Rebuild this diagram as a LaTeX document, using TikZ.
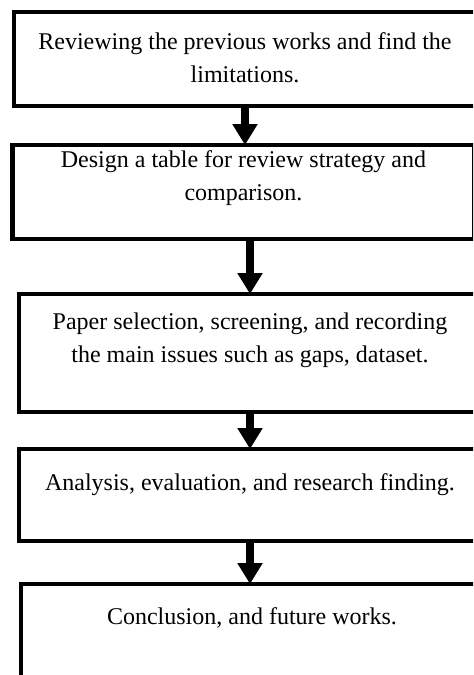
\documentclass[tikz,border=0pt]{standalone}
\usepackage{fontspec}
\setmainfont{Liberation Serif}
\usetikzlibrary{positioning, arrows.meta}

\tikzset{
    stage/.style={
        draw=black,
        line width=2.2pt,
        text width=231pt,
        align=flush center,
        inner xsep=0pt,
        inner ysep=0pt,
        outer sep=0pt,
        font=\fontsize{12pt}{16.7pt}\selectfont
    },
    flow/.style={
        draw=black,
        line width=4pt,
        -{Triangle[width=12pt, length=10.5pt]},
        shorten <=1pt
    }
}

\begin{document}
\begin{tikzpicture}

    % frame of the page, the boxes run past its right and bottom edges
    \useasboundingbox (0,0) rectangle (236.5pt,-337.5pt);
    \clip (0,0) rectangle (236.5pt,-337.5pt);

    % Stages
    \node[stage, anchor=north west, text height=18.5pt, text depth=28.5pt] (s1) at (7pt,-6pt) {
        Reviewing the previous works and find the\\
        limitations.
    };

    \node[stage, below=19.5pt of s1, xshift=-0.75pt, text height=11pt, text depth=36pt] (s2) {
        Design a table for review strategy and\\
        comparison.
    };

    \node[stage, below=27.5pt of s2, xshift=3.25pt, text height=17.5pt, text depth=41.5pt] (s3) {
        Paper selection, screening, and recording\\
        the main issues such as gaps, dataset.
    };

    \node[stage, below=18.5pt of s3, text height=20.5pt, text depth=25.5pt] (s4) {
        Analysis, evaluation, and research finding.
    };

    \node[stage, below=21.5pt of s4, xshift=1pt, text height=20pt, text depth=40pt] (s5) {
        Conclusion, and future works.
    };

    % Arrows between stages
    \draw[flow] (s1.south) -- (s1.south |- s2.north);
    \draw[flow] (s3.north |- s2.south) -- (s3.north);
    \draw[flow] (s3.south) -- (s3.south |- s4.north);
    \draw[flow] (s4.south) -- (s4.south |- s5.north);

\end{tikzpicture}
\end{document}
